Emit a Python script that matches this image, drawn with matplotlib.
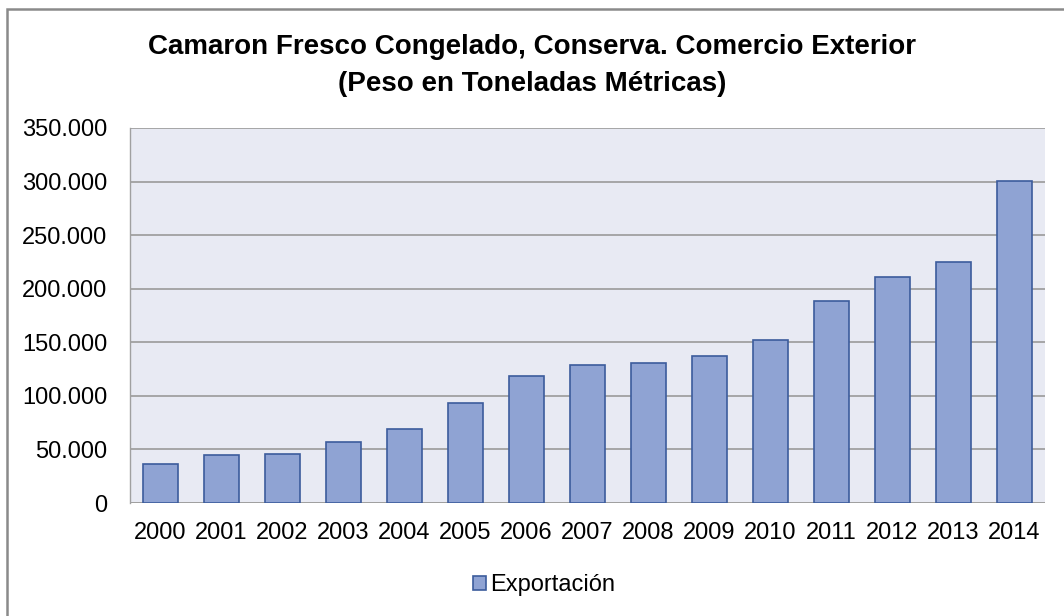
import matplotlib
matplotlib.use("Agg")
import matplotlib.pyplot as plt
from matplotlib.patches import Rectangle
from matplotlib.ticker import FuncFormatter

years = ["2000", "2001", "2002", "2003", "2004", "2005", "2006", "2007",
         "2008", "2009", "2010", "2011", "2012", "2013", "2014"]
exportacion = [36000, 44800, 46000, 57200, 68700, 93000, 118300, 128500,
               131000, 137200, 152400, 188800, 210600, 225200, 300800]

plt.rcParams['font.family'] = ['Liberation Sans', 'DejaVu Sans']

W, H = 1064, 616
fig = plt.figure(figsize=(W / 100, H / 100), dpi=100)
fig.patch.set_facecolor('white')
# outer chart border (right/bottom edges lie beyond the picture)
fig.patches.append(Rectangle((6.5 / W, -10 / H), 1070 / W, (H - 8.5 + 10) / H, transform=fig.transFigure,
                             fill=False, edgecolor='#8a8a8a', linewidth=1.8))

L, R, T, B = 130, 1045, 128, 503
ax = fig.add_axes([L / W, 1 - B / H, (R - L) / W, (B - T) / H])
ax.set_facecolor('#E8EAF3')
x = list(range(len(years)))
ax.bar(x, exportacion, width=0.57, color='#8FA3D3', edgecolor='#3C5C9C', linewidth=1.2,
       label='Exportación', zorder=3)
ax.set_xlim(-0.5, len(years) - 0.5)
ax.set_ylim(0, 350000)
ax.set_yticks(range(0, 350001, 50000))
ax.yaxis.set_major_formatter(FuncFormatter(lambda v, p: f"{int(v):,}".replace(",", ".")))
ax.set_xticks(x)
ax.set_xticklabels(years)
ax.grid(axis='y', color='#A0A0A0', linewidth=1.3, zorder=1)
ax.tick_params(axis='both', length=0, labelsize=17, colors='black')
ax.tick_params(axis='y', pad=16.5)
ax.tick_params(axis='x', pad=14)
for s in ['top', 'right', 'bottom']:
    ax.spines[s].set_visible(False)
ax.spines['left'].set_color('#A0A0A0')
ax.spines['left'].set_linewidth(1.0)
ax.axhline(0, color='#A0A0A0', linewidth=1.3, zorder=2)

fig.text(532 / W, 1 - 47.5 / H, "Camaron Fresco Congelado, Conserva. Comercio Exterior",
         ha='center', va='center', fontsize=20, fontweight='bold')
fig.text(532 / W, 1 - 84 / H, "(Peso en Toneladas Métricas)",
         ha='center', va='center', fontsize=20, fontweight='bold')

fig.legend(loc='center', bbox_to_anchor=(544 / W, 1 - 585 / H), frameon=False,
           fontsize=17, handlelength=0.55, handleheight=0.55, handletextpad=0.2,
           borderpad=0, borderaxespad=0)

fig.savefig("out.png", dpi=100)
